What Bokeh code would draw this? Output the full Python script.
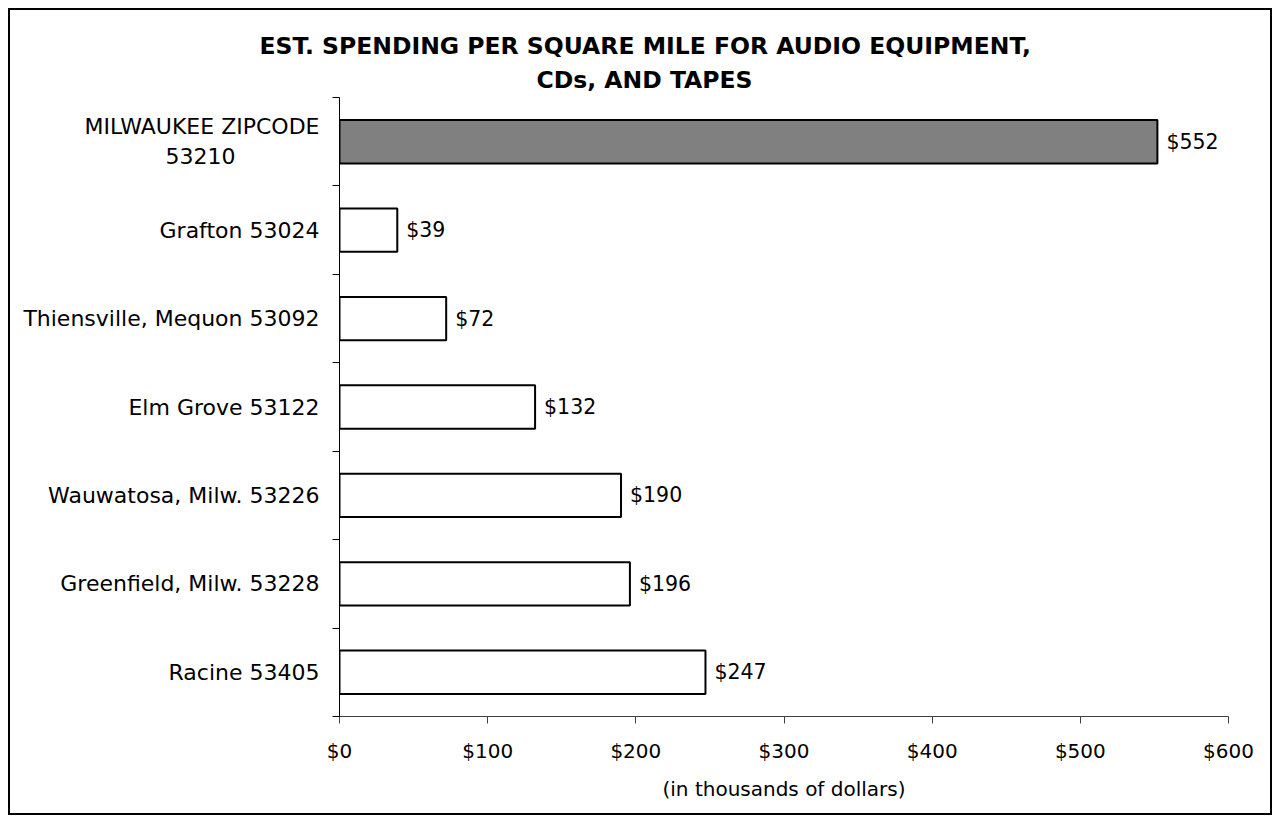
from bokeh.plotting import figure
from bokeh.models import Range1d, FixedTicker, ColumnDataSource, Title
from bokeh.core.properties import value
from bokeh.embed import file_html
from bokeh.resources import INLINE

# ---- data ----
categories = [
    "MILWAUKEE ZIPCODE\n53210",
    "Grafton 53024",
    "Thiensville, Mequon 53092",
    "Elm Grove 53122",
    "Wauwatosa, Milw. 53226",
    "Greenfield, Milw. 53228",
    "Racine 53405",
]
values = [552, 39, 72, 132, 190, 196, 247]
highlight = [True, False, False, False, False, False, False]
x_ticks = [0, 100, 200, 300, 400, 500, 600]
x_tick_labels = ["$0", "$100", "$200", "$300", "$400", "$500", "$600"]
title_lines = ["EST. SPENDING PER SQUARE MILE FOR AUDIO EQUIPMENT,", "CDs, AND TAPES"]
x_axis_label = "(in thousands of dollars)"

n = len(categories)
ypos = [n - 0.5 - i for i in range(n)]
FONT = "DejaVu Sans"

src = ColumnDataSource(dict(
    y=ypos,
    right=values,
    fill=["#808080" if h else "#ffffff" for h in highlight],
    lab=["$%d" % v for v in values],
))

p = figure(width=1264, height=807, output_backend="svg", toolbar_location=None,
           x_range=Range1d(0, 600), y_range=Range1d(0, n),
           min_border_left=329, min_border_right=46, min_border_top=87, min_border_bottom=101)
p.styles = {"border": "2px solid black", "margin-left": "8px", "margin-top": "8px"}
p.outline_line_color = None
p.grid.grid_line_color = None
p.background_fill_color = "white"
p.border_fill_color = "white"

p.hbar(y="y", left=0, right="right", height=0.49, fill_color="fill",
       line_color="black", line_width=2, source=src)
p.text(x="right", y="y", text="lab", x_offset=9, text_baseline="middle", text_align="left",
       text_font=value(FONT), text_font_size="20.5px", text_color="black", source=src)

# x axis
xa = p.xaxis[0]
xa.ticker = FixedTicker(ticks=x_ticks)
xa.major_label_overrides = {t: l for t, l in zip(x_ticks, x_tick_labels)}
xa.major_label_text_font = FONT
xa.major_label_text_font_size = "20px"
xa.major_label_text_color = "black"
xa.major_label_standoff = 15
xa.major_tick_out = 7
xa.major_tick_in = 0
xa.minor_tick_line_color = None
xa.axis_line_color = "#404040"
xa.major_tick_line_color = "#404040"
xa.axis_label = x_axis_label
xa.axis_label_text_font = FONT
xa.axis_label_text_font_size = "20px"
xa.axis_label_text_font_style = "normal"
xa.axis_label_text_color = "black"
xa.axis_label_standoff = 11


def centre_lines(label, pad_char="\u00a0"):
    """Pad the shorter line of a multi-line label so it sits centred under the longest one."""
    lines = label.split("\n")
    if len(lines) < 2:
        return label
    longest = max(len(s) for s in lines)
    return "\n".join(s + pad_char * (longest - len(s)) for s in lines)


# y axis: labels at category centres, ticks at boundaries
ya = p.yaxis[0]
ya.ticker = FixedTicker(ticks=ypos, minor_ticks=list(range(n + 1)))
ya.major_label_overrides = {y: centre_lines(c) for y, c in zip(ypos, categories)}
ya.major_tick_out = 0
ya.major_tick_in = 0
ya.minor_tick_out = 7
ya.minor_tick_in = 0
ya.minor_tick_line_color = "black"
ya.axis_line_color = "black"
ya.major_label_text_font = FONT
ya.major_label_text_font_size = "22px"
ya.major_label_text_color = "black"
ya.major_label_standoff = 13

# title lines (bottom line added first so the first line sits on top)
title_offsets = [-80, 197]
title_standoffs = [0, 8]
for t, off, so in reversed(list(zip(title_lines, title_offsets, title_standoffs))):
    p.add_layout(Title(text=t, align="left", offset=off, text_font=FONT,
                       text_font_size="23.5px", text_font_style="bold", text_color="black",
                       standoff=so), "above")

open("out.html", "w").write(file_html(p, INLINE))
